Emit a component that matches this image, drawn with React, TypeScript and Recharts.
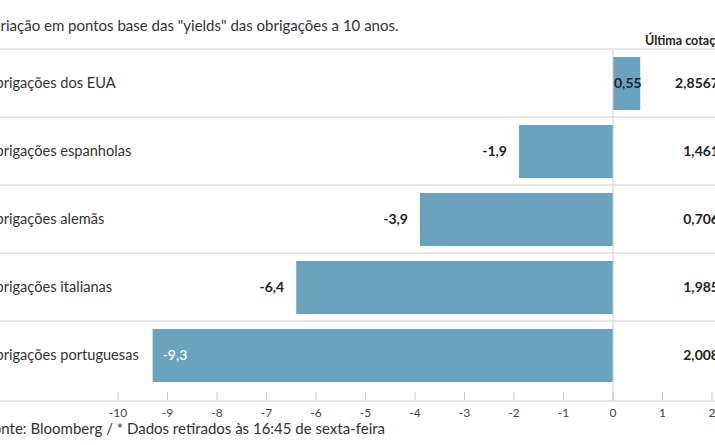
import React from "react";
import { BarChart, Bar, XAxis, YAxis, ReferenceLine, LabelList } from "recharts";

const categories = [
  "Obrigações dos EUA",
  "Obrigações espanholas",
  "Obrigações alemãs",
  "Obrigações italianas",
  "Obrigações portuguesas",
];
const variation = [0.55, -1.9, -3.9, -6.4, -9.3];
const lastQuote = ["2,8567", "1,461", "0,706", "1,985", "2,008"];
const xTicks = [-10, -9, -8, -7, -6, -5, -4, -3, -2, -1, 0, 1, 2];

const data = categories.map((name, i) => ({ name, value: variation[i] }));

const FONT = "Lato, 'Open Sans', sans-serif";
const BAR_COLOR = "#6ba3be";
const LINE = "#cccccc";
const SHIFT = 20;
const CHART_W = 760;
const ROW_H = 68;
const AXIS_GAP = 12;

function fmt(v: number): string {
  return String(v).replace(".", ",");
}

function RowTick(props: any) {
  const { y, payload } = props;
  const i = categories.indexOf(payload.value);
  const top = y - ROW_H / 2;
  return (
    <g>
      <line x1={0} x2={CHART_W} y1={top} y2={top} stroke={LINE} />
      <text x={4} y={y} dy="0.35em" fontSize={14.6} fill="#333" fontFamily={FONT}>
        {payload.value}
      </text>
      <text
        x={739}
        y={y}
        dy="0.35em"
        textAnchor="end"
        fontSize={14}
        fontWeight="bold"
        fill="#222"
        fontFamily={FONT}
      >
        {lastQuote[i]}
      </text>
      {i === categories.length - 1 && (
        <line
          x1={0}
          x2={CHART_W}
          y1={top + ROW_H + AXIS_GAP}
          y2={top + ROW_H + AXIS_GAP}
          stroke={LINE}
        />
      )}
    </g>
  );
}

function AxisTick(props: any) {
  const { x, y, payload } = props;
  return (
    <g>
      <line x1={x} x2={x} y1={y - 9} y2={y - 1} stroke={LINE} />
      <text x={x} y={y + 12} dy="0.35em" textAnchor="middle" fontSize={12} fill="#444" fontFamily={FONT}>
        {payload.value}
      </text>
    </g>
  );
}

function BarValue(props: any) {
  const { x, y, width, height, value } = props;
  const left = Math.min(x, x + width);
  const cy = y + height / 2;
  if (value >= 0) {
    return (
      <text x={left + 1} y={cy} dy="0.35em" fontSize={14} fontWeight="bold" fill="#222" fontFamily={FONT}>
        {fmt(value)}
      </text>
    );
  }
  if (left < 200) {
    return (
      <text x={left + 10} y={cy} dy="0.35em" fontSize={14} fontWeight={600} fill="#fff" fontFamily={FONT}>
        {fmt(value)}
      </text>
    );
  }
  return (
    <text x={left - 12} y={cy} dy="0.35em" textAnchor="end" fontSize={14} fontWeight="bold" fill="#222" fontFamily={FONT}>
      {fmt(value)}
    </text>
  );
}

export default function App() {
  return (
    <div
      style={{
        position: "absolute",
        left: 0,
        top: 0,
        width: 715,
        height: 445,
        overflow: "hidden",
        background: "#fff",
        fontFamily: FONT,
      }}
    >
      <div style={{ position: "absolute", left: -SHIFT, top: 0 }}>
        <BarChart
          width={CHART_W}
          height={445}
          data={data}
          layout="vertical"
          margin={{ top: 49, right: 28, left: 0, bottom: 0 }}
        >
          <XAxis
            type="number"
            domain={[-10, 2]}
            ticks={xTicks}
            interval={0}
            height={44}
            axisLine={false}
            tickLine={false}
            tickSize={0}
            tickMargin={0}
            tick={<AxisTick />}
          />
          <YAxis
            type="category"
            dataKey="name"
            width={138}
            axisLine={false}
            tickLine={false}
            padding={{ top: 0, bottom: AXIS_GAP }}
            tick={<RowTick />}
          />
          <ReferenceLine x={0} stroke={LINE} />
          <Bar dataKey="value" fill={BAR_COLOR} barSize={53} isAnimationActive={false}>
            <LabelList dataKey="value" content={<BarValue />} />
          </Bar>
        </BarChart>
      </div>
      <div
        style={{
          position: "absolute",
          left: -16,
          top: 16,
          lineHeight: "18px",
          fontSize: 15,
          color: "#333",
          whiteSpace: "nowrap",
        }}
      >
        Variação em pontos base das "yields" das obrigações a 10 anos.
      </div>
      <div
        style={{
          position: "absolute",
          left: 645,
          top: 33,
          lineHeight: "16px",
          fontSize: 12.5,
          fontWeight: "bold",
          color: "#222",
          whiteSpace: "nowrap",
        }}
      >
        Última cotação*
      </div>
      <div
        style={{
          position: "absolute",
          left: -15,
          top: 419,
          lineHeight: "18px",
          fontSize: 15,
          color: "#333",
          whiteSpace: "nowrap",
        }}
      >
        Fonte: Bloomberg / * Dados retirados às 16:45 de sexta-feira
      </div>
    </div>
  );
}
